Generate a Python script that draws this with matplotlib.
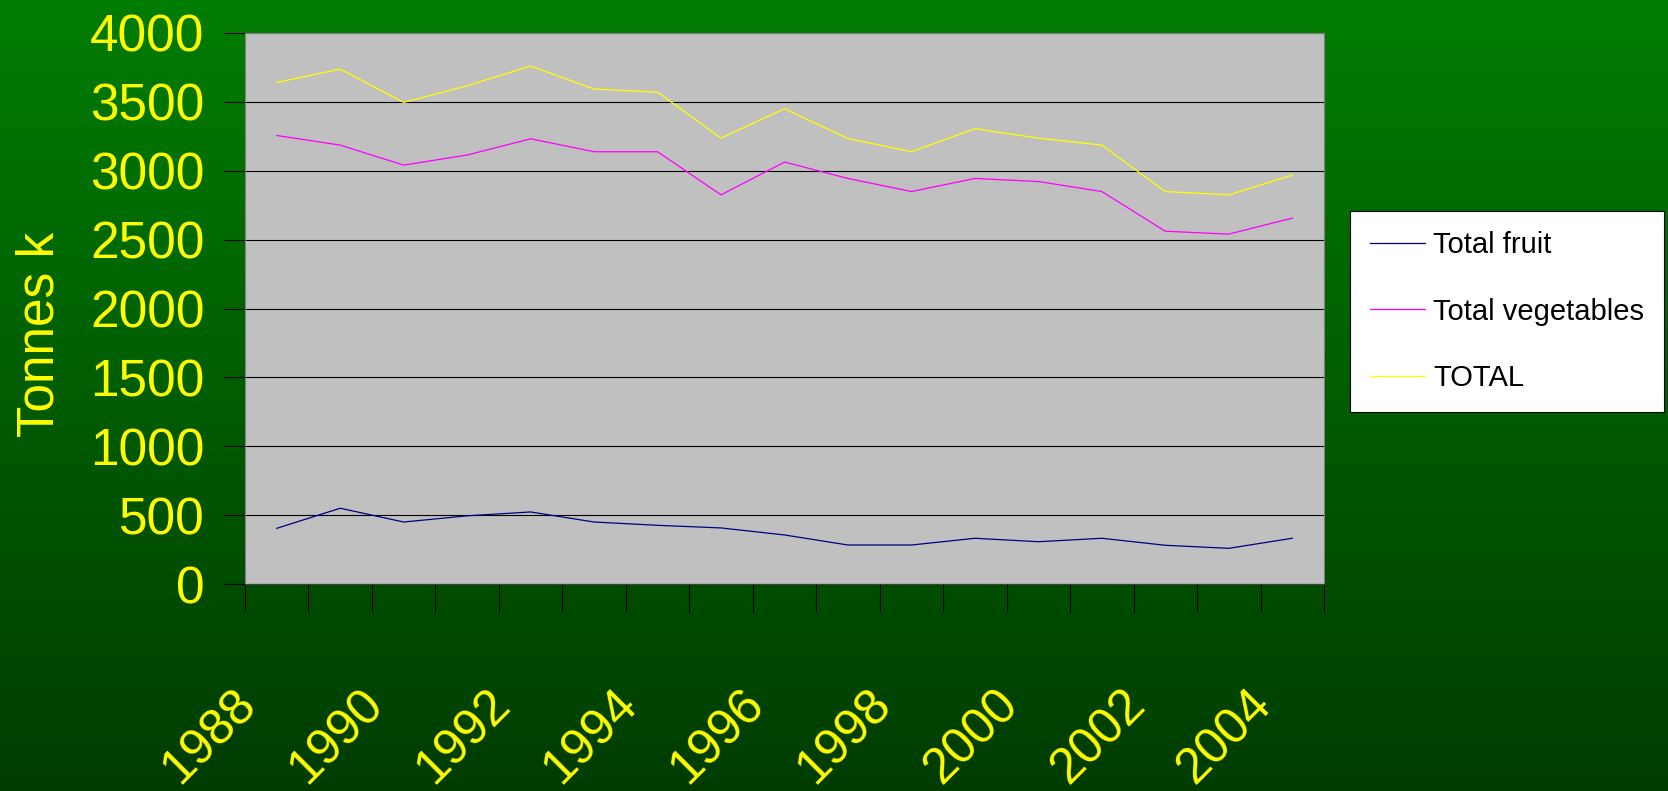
import numpy as np
import matplotlib
matplotlib.use("Agg")
import matplotlib.pyplot as plt
from matplotlib.transforms import ScaledTranslation

plt.rcParams['font.family'] = ['Liberation Sans', 'DejaVu Sans']

# данные
years = list(range(1988, 2005))
fruit = [404, 550, 450, 495, 523, 450, 426, 407, 356, 283, 283, 332, 307, 332, 281, 259, 332]
vegetables = [3256, 3186, 3041, 3114, 3232, 3138, 3138, 2825, 3063, 2944, 2849, 2944, 2922, 2849, 2561, 2540, 2656]
total = [3641, 3738, 3496, 3617, 3760, 3593, 3571, 3237, 3450, 3234, 3138, 3305, 3237, 3186, 2849, 2825, 2968]
year_labels = [str(y) if y % 2 == 0 else '' for y in years]
y_ticks = [0, 500, 1000, 1500, 2000, 2500, 3000, 3500, 4000]

fig = plt.figure(figsize=(16.68, 7.91), dpi=100)

# фон с градиентом
bg = fig.add_axes([0, 0, 1, 1], zorder=-10)
grad = np.linspace(0, 1, 256).reshape(-1, 1)
top_c = np.array([0, 125, 0]) / 255
bot_c = np.array([0, 60, 0]) / 255
img = top_c + (bot_c - top_c) * grad[:, :, None]
bg.imshow(img, aspect='auto', extent=[0, 1, 0, 1])
bg.axis('off')

ax = fig.add_axes([245 / 1668, 1 - 584 / 791, 1079 / 1668, 551 / 791])
ax.set_facecolor('#C0C0C0')

x = np.arange(len(years))
ax.plot(x, fruit, color='#000080', lw=0.9, label='Total fruit')
ax.plot(x, vegetables, color='#FF00FF', lw=0.9, label='Total vegetables')
ax.plot(x, total, color='#FFFF00', lw=0.9, label='TOTAL')

ax.set_xlim(-0.5, len(years) - 0.5)
ax.set_ylim(0, 4000)
ax.set_yticks(y_ticks)
ax.yaxis.grid(True, color='black', lw=0.8)
ax.set_axisbelow(True)

ax.set_xticks(x)
ax.set_xticklabels(year_labels)
ax.set_xticks(np.arange(-0.5, len(years)), minor=True)
ax.tick_params(axis='x', which='major', length=0, pad=70, colors='#FFFF00',
               labelsize=36)
ax.tick_params(axis='x', which='minor', length=20, width=0.8, color='black',
               direction='out')
ax.tick_params(axis='y', length=15, width=0.8, color='black', direction='out',
               pad=14, labelcolor='#FFFF00', labelsize=37)

off = ScaledTranslation(-0.44, 0, fig.dpi_scale_trans)
for lbl in ax.get_xticklabels():
    lbl.set_rotation(45)
    lbl.set_ha('right')
    lbl.set_va('top')
    lbl.set_rotation_mode('anchor')
    lbl.set_transform(lbl.get_transform() + off)

for s in ax.spines.values():
    s.set_color('#808080')
    s.set_linewidth(0.8)
ax.spines['bottom'].set_color('#404040')

fig.text(40 / 1668, 1 - 334 / 791, 'Tonnes k', rotation=90, ha='center',
         va='center', color='#FFFF00', fontsize=37)

leg = ax.legend(loc='upper left', bbox_to_anchor=(1350 / 1668, 1 - 211 / 791),
                bbox_transform=fig.transFigure, fontsize=21, frameon=True,
                fancybox=False, edgecolor='black', facecolor='white',
                framealpha=1, handlelength=1.9, handletextpad=0.28,
                labelspacing=1.33, borderpad=0.68, borderaxespad=0)
leg.get_frame().set_linewidth(0.8)

fig.savefig('out.png', dpi=100)
